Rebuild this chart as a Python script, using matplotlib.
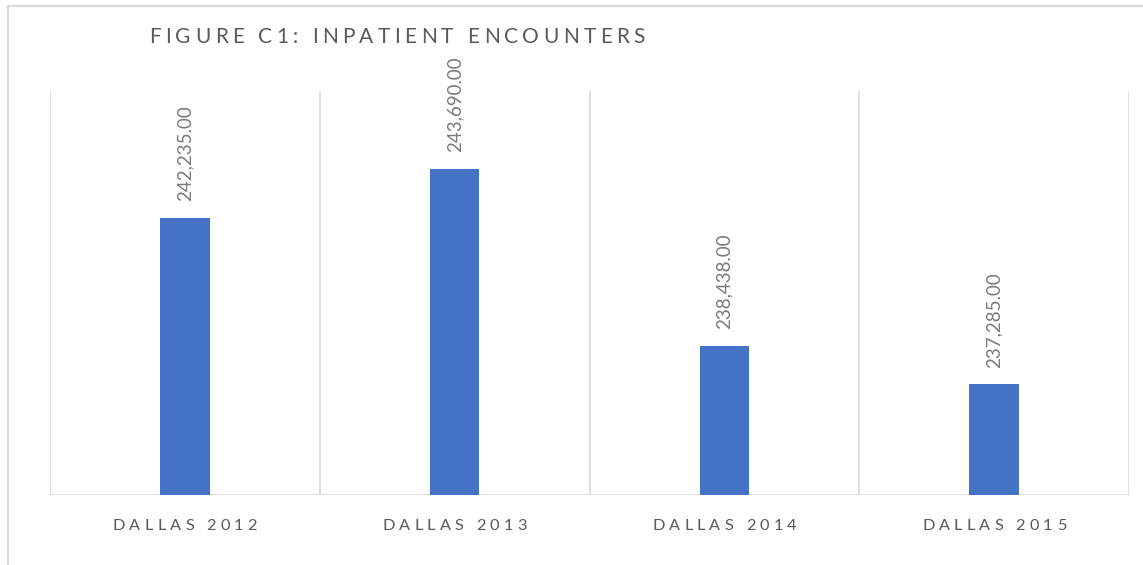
import matplotlib
matplotlib.use("Agg")
import matplotlib.pyplot as plt
from matplotlib.font_manager import FontProperties
from matplotlib.lines import Line2D

categories = ["DALLAS 2012", "DALLAS 2013", "DALLAS 2014", "DALLAS 2015"]
encounters = [242235, 243690, 238438, 237285]
title = "FIGURE C1: INPATIENT ENCOUNTERS"

W, H = 1143, 565
BAR = "#4472C4"
GRID = "#D9D9D9"
TXT = "#595959"

fig = plt.figure(figsize=(W / 100, H / 100), dpi=100)
ax = fig.add_axes([50 / W, 1 - 495 / H, 1079 / W, 404 / H])

x = list(range(len(categories)))
bars = ax.bar(x, encounters, width=0.183, color=BAR, zorder=3)
ax.set_xlim(-0.5, len(categories) - 0.5)
ax.set_ylim(234000, 246000)

# category separators + baseline
for b in [i - 0.5 for i in range(len(categories) + 1)]:
    ax.axvline(b, color=GRID, lw=1.2, zorder=1)
ax.axhline(234000, color=GRID, lw=1.8, zorder=2)

for s in ax.spines.values():
    s.set_visible(False)
ax.set_xticks([])
ax.set_yticks([])

# data labels
for xi, v in zip(x, encounters):
    ax.annotate(f"{v:,.2f}", (xi, v), xytext=(0, 12), textcoords="offset points",
                rotation=90, ha="center", va="bottom", color="#7A7A7A",
                fontsize=13.5, family="Lato")

# chart border (only top and left visible)
fig.add_artist(Line2D([8 / W, 1], [1 - 6 / H, 1 - 6 / H], color=GRID, lw=1.5,
                      transform=fig.transFigure))
fig.add_artist(Line2D([8 / W, 8 / W], [1 - 6 / H, 0], color=GRID, lw=1.5,
                      transform=fig.transFigure))

renderer = fig.canvas.get_renderer()


def text_w(s, prop):
    w, h, d = renderer.get_text_width_height_descent(s, prop, ismath=False)
    return w


def spaced_text(s, x0, base, target_w, size, color, center=False):
    # letter-spaced text, one char at a time (pixel coords, y from top)
    prop = FontProperties(family="Lato", size=size)
    nat = text_w(s, prop)
    gap = (target_w - nat) / (len(s) - 1)
    ref = text_w("I", prop)
    if center:
        x0 = x0 - target_w / 2
    for i, c in enumerate(s):
        if c == " ":
            continue
        adv = text_w(s[:i] + "I", prop) - ref if i else 0
        fig.text((x0 + adv + i * gap) / W, 1 - base / H, c, fontproperties=prop,
                 color=color, ha="left", va="baseline")


spaced_text(title, 149, 43.3, 496, 15, TXT)

for xi, lab in zip(x, categories):
    px = ax.transData.transform((xi, 0))[0]
    spaced_text(lab, px, 530, 144, 11.7, TXT, center=True)

fig.savefig("out.png", dpi=100, facecolor="white")
